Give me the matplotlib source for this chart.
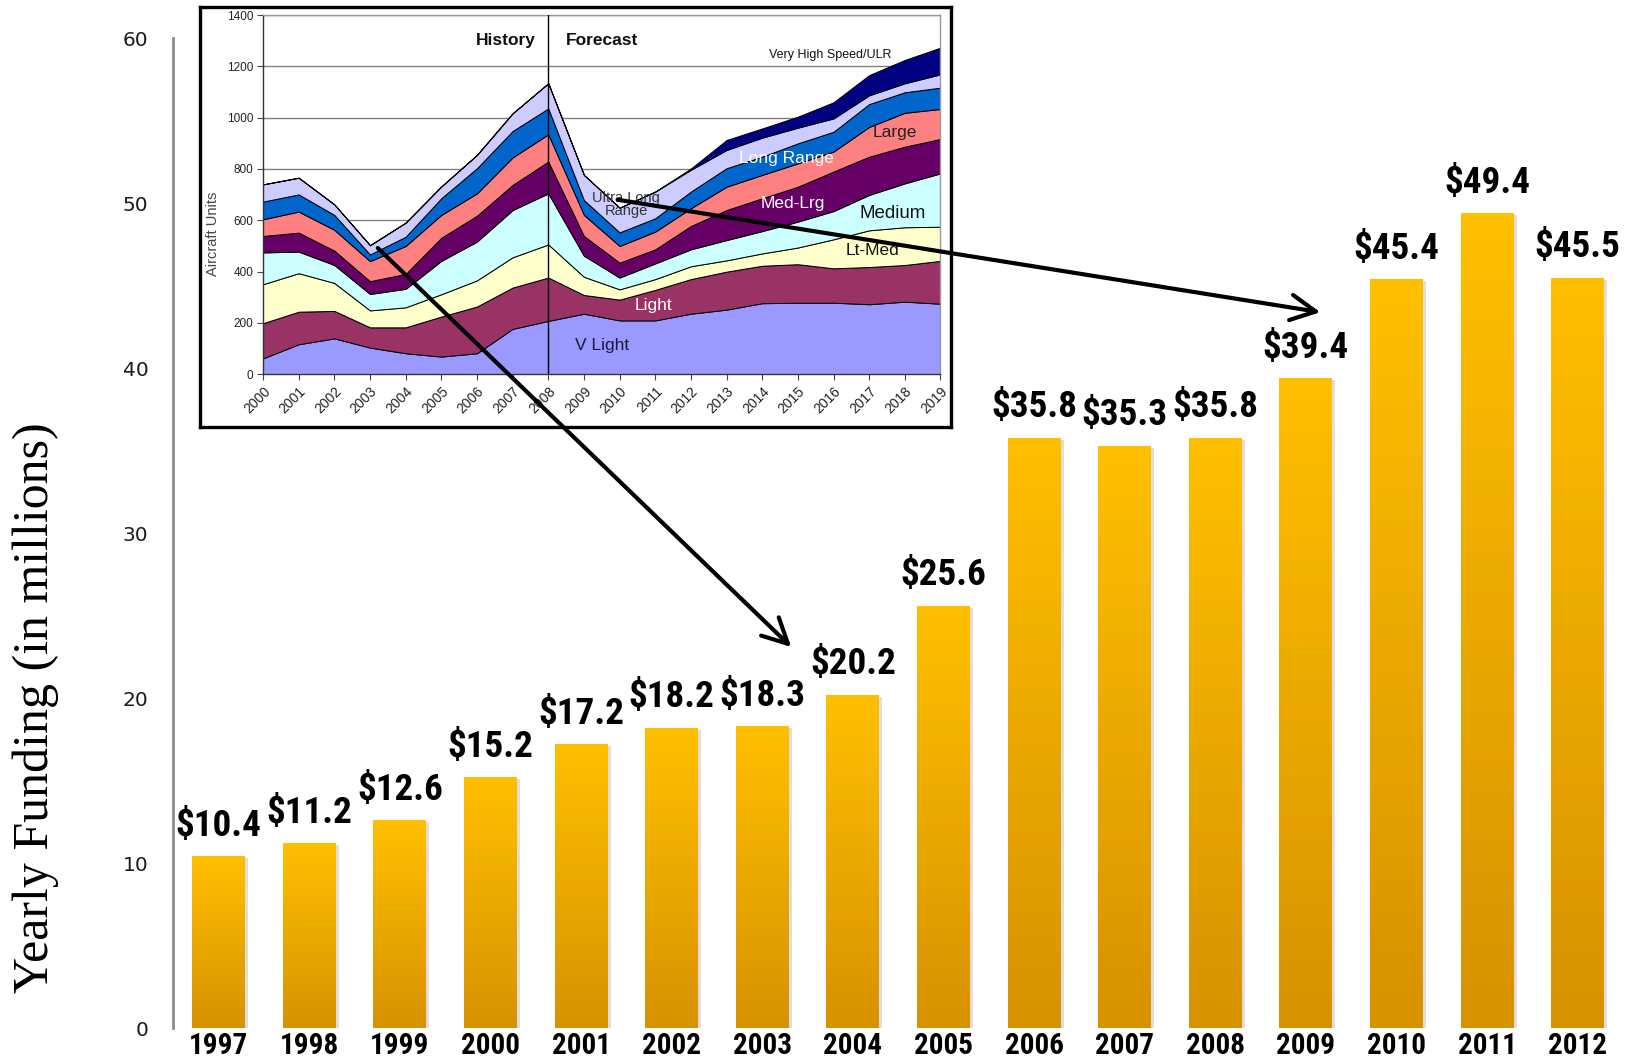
import os
import numpy as np
import matplotlib
matplotlib.use("Agg")
import matplotlib.pyplot as plt
from matplotlib.colors import LinearSegmentedColormap
from matplotlib.patches import ConnectionPatch
from matplotlib.transforms import offset_copy
from matplotlib import font_manager as fm
from matplotlib.font_manager import FontProperties
from matplotlib.textpath import TextToPath

# ---------------- main chart data ----------------
years = ["1997", "1998", "1999", "2000", "2001", "2002", "2003", "2004",
         "2005", "2006", "2007", "2008", "2009", "2010", "2011", "2012"]
funding = [10.4, 11.2, 12.6, 15.2, 17.2, 18.2, 18.3, 20.2,
           25.6, 35.8, 35.3, 35.8, 39.4, 45.4, 49.4, 45.5]
value_labels = ["$10.4", "$11.2", "$12.6", "$15.2", "$17.2", "$18.2", "$18.3", "$20.2",
                "$25.6", "$35.8", "$35.3", "$35.8", "$39.4", "$45.4", "$49.4", "$45.5"]
y_ticks = [0, 10, 20, 30, 40, 50, 60]

# ---------------- inset (aircraft units) data ----------------
inset_years = list(range(2000, 2020))
inset_year_labels = [str(y) for y in inset_years]
layer_names = ["V Light", "Light", "Lt-Med", "Medium", "Med-Lrg", "Large",
               "Long Range", "Ultra Long Range", "Very High Speed/ULR"]
v_light = [62, 117, 140, 104, 82, 69, 82, 177, 208, 236, 210, 210, 236, 252, 277, 279, 279, 273, 283, 275]
light = [137, 127, 107, 79, 101, 156, 182, 161, 169, 73, 81, 119, 135, 148, 146, 150, 134, 145, 143, 167]
lt_med = [152, 150, 109, 66, 78, 87, 102, 118, 129, 71, 40, 42, 50, 44, 48, 65, 113, 143, 147, 133]
medium = [124, 84, 70, 64, 72, 130, 151, 184, 199, 82, 46, 61, 66, 79, 87, 101, 110, 138, 171, 208]
med_lrg = [64, 74, 56, 50, 58, 90, 101, 98, 124, 77, 58, 55, 91, 117, 128, 136, 154, 149, 143, 134]
large = [65, 82, 81, 78, 109, 89, 87, 107, 106, 82, 65, 69, 69, 91, 91, 91, 78, 116, 132, 117]
long_range = [69, 67, 58, 26, 36, 65, 98, 103, 101, 58, 53, 52, 65, 72, 71, 78, 77, 89, 80, 83]
ultra_long = [67, 65, 41, 36, 55, 46, 52, 69, 98, 98, 96, 104, 85, 71, 74, 61, 52, 34, 35, 52]
very_high = [0, 0, 0, 0, 0, 0, 0, 0, 0, 0, 0, 0, 5, 39, 36, 43, 63, 79, 91, 104]
inset_y_ticks = [0, 200, 400, 600, 800, 1000, 1200, 1400]

layer_colors = ["#9999FF", "#993366", "#FFFFCC", "#CCFFFF", "#660066",
                "#FF8080", "#0066CC", "#CCCCFF", "#000080"]

sans = ["Liberation Sans", "DejaVu Sans"]


# ---------- pick a narrow bold font (Arial Narrow look-alike) ----------
def pick_narrow_bold():
    prefs = ["liberationsansnarrow-bold.", "notosans-condensedbold.",
             "robotocondensed-bold.", "roboto_condensed-bold.",
             "opensans-condensedbold.", "dejavusanscondensed-bold.",
             "notosans-semicondensedbold."]
    files = [f.fname for f in fm.fontManager.ttflist]
    for p in prefs:
        for fn in files:
            if os.path.basename(fn).lower().startswith(p):
                return fn
    return None


narrow_file = pick_narrow_bold()


def narrow_prop(size):
    if narrow_file:
        return FontProperties(fname=narrow_file, size=size)
    return FontProperties(family="DejaVu Sans", weight="bold", size=size)


def fit_size(sample, target_px, max_size):
    t2p = TextToPath()
    w, h, d = t2p.get_text_width_height_descent(sample, narrow_prop(10), ismath=False)
    size = 10 * (target_px * 0.72) / w
    return min(size, max_size)


label_size = fit_size("$10.4", 86, 31)
year_size = fit_size("1997", 59, 24)

fig = plt.figure(figsize=(16.28, 10.62), dpi=100)
fig.patch.set_facecolor("white")

# ---------------- main bar chart ----------------
ax = fig.add_axes([0.1065, 0.0320, 0.8904, 0.9318])
x = np.arange(len(years))
w = 0.585
cmap = LinearSegmentedColormap.from_list("gold", ["#D79200", "#FFC000"])

# soft shadow
shadow = ax.bar(x, funding, width=w, color="#000000", alpha=0.13, zorder=1)
sh_tr = offset_copy(ax.transData, fig=fig, x=3, y=-2, units="dots")
for p in shadow.patches:
    p.set_transform(sh_tr)

bars = ax.bar(x, funding, width=w, color="none", edgecolor="none", zorder=2)
grad = np.linspace(0, 1, 256).reshape(-1, 1)
for p in bars.patches:
    x0, y0 = p.get_x(), p.get_y()
    im = ax.imshow(grad, extent=[x0, x0 + p.get_width(), y0, y0 + p.get_height()],
                   origin="lower", aspect="auto", cmap=cmap, zorder=2,
                   interpolation="bicubic")
    im.set_clip_path(p)

for xi, v, lab in zip(x, funding, value_labels):
    ax.annotate(lab, (xi, v), xytext=(0, 9), textcoords="offset points",
                ha="center", va="bottom", fontproperties=narrow_prop(label_size),
                color="black", zorder=4)

ax.set_xlim(-0.5, len(years) - 0.5)
ax.set_ylim(0, 60)
ax.set_xticks(x)
ax.set_xticklabels(years, fontproperties=narrow_prop(year_size))
ax.set_yticks(y_ticks)
ax.set_yticklabels([str(t) for t in y_ticks], fontsize=14.5, family="DejaVu Sans",
                   color="#1a1a1a")
ax.tick_params(axis="both", length=0)
ax.tick_params(axis="y", pad=18)
ax.tick_params(axis="x", pad=3)
for s in ["top", "right", "bottom"]:
    ax.spines[s].set_visible(False)
ax.spines["left"].set_color("#8c8c8c")
ax.spines["left"].set_linewidth(2)
ax.set_ylabel("Yearly Funding (in millions)", fontsize=36,
              family=["Liberation Serif", "DejaVu Serif"])
ax.yaxis.set_label_coords(-0.079, 0.324)

# ---------------- inset frame ----------------
frame = fig.add_axes([200 / 1628, 1 - 427 / 1062, 751 / 1628, 420 / 1062], zorder=2)
frame.set_facecolor("white")
frame.set_xticks([])
frame.set_yticks([])
for s in frame.spines.values():
    s.set_color("black")
    s.set_linewidth(2.4)

# ---------------- inset stacked area chart ----------------
axi = fig.add_axes([263 / 1628, 1 - 374.3 / 1062, 677.5 / 1628, 359.3 / 1062], zorder=3)
axi.set_facecolor("white")
axi.stackplot(inset_years, v_light, light, lt_med, medium, med_lrg, large,
              long_range, ultra_long, very_high, colors=layer_colors,
              edgecolor="black", linewidth=0.7, zorder=2)
axi.set_xlim(2000, 2019)
axi.set_ylim(0, 1400)
axi.set_yticks(inset_y_ticks)
axi.set_yticklabels([str(t) for t in inset_y_ticks], fontsize=8.5, family=sans, color="#222")
axi.set_xticks(inset_years)
axi.set_xticklabels(inset_year_labels, rotation=45, ha="right", va="top",
                    rotation_mode="anchor", fontsize=10, family=sans, color="#222")
axi.tick_params(axis="both", length=4, width=0.8, color="#444")
axi.tick_params(axis="y", pad=3)
axi.tick_params(axis="x", pad=3)
axi.yaxis.grid(True, color="#808080", linewidth=1)
axi.set_axisbelow(True)
for s in ["top", "right"]:
    axi.spines[s].set_color("#999999")
    axi.spines[s].set_linewidth(1)
for s in ["left", "bottom"]:
    axi.spines[s].set_color("#333333")
    axi.spines[s].set_linewidth(1)
axi.axvline(2008, color="black", linewidth=1, zorder=5)
axi.set_ylabel("Aircraft Units", fontsize=10.5, family=sans, color="#444")
axi.yaxis.set_label_coords(-0.064, 0.392)

txt_kw = dict(ha="center", va="center", family=sans, zorder=6)
axi.text(2006.80, 1300, "History", fontsize=12.5, fontweight="bold", color="#111", **txt_kw)
axi.text(2009.51, 1300, "Forecast", fontsize=12.5, fontweight="bold", color="#111", **txt_kw)
axi.text(2015.92, 1245, "Very High Speed/ULR", fontsize=9, color="#111", **txt_kw)
axi.text(2017.72, 943, "Large", fontsize=12.5, color="#222", **txt_kw)
axi.text(2014.69, 841, "Long Range", fontsize=12.5, color="white", **txt_kw)
axi.text(2010.18, 662, "Ultra Long\nRange", fontsize=10.5, color="#333", linespacing=0.95, **txt_kw)
axi.text(2014.86, 664, "Med-Lrg", fontsize=12.5, color="white", **txt_kw)
axi.text(2017.67, 626, "Medium", fontsize=13.5, color="#111", **txt_kw)
axi.text(2017.08, 482, "Lt-Med", fontsize=12.5, color="#111", **txt_kw)
axi.text(2010.96, 267, "Light", fontsize=12.5, color="white", **txt_kw)
axi.text(2009.51, 111, "V Light", fontsize=12.5, color="#1a1a3a", **txt_kw)

# ---------------- arrows from inset to bars ----------------
arrow_kw = dict(arrowstyle="->,head_length=0.75,head_width=0.38", color="black",
                linewidth=3, mutation_scale=24, shrinkA=0, shrinkB=0, zorder=10)
a1 = ConnectionPatch(xyA=(2003.22, 492), coordsA=axi.transData,
                     xyB=(6.32, 23.1), coordsB=ax.transData, **arrow_kw)
a2 = ConnectionPatch(xyA=(2009.95, 680), coordsA=axi.transData,
                     xyB=(12.16, 43.4), coordsB=ax.transData, **arrow_kw)
fig.add_artist(a1)
fig.add_artist(a2)

fig.savefig("out.png", dpi=100, facecolor="white")
